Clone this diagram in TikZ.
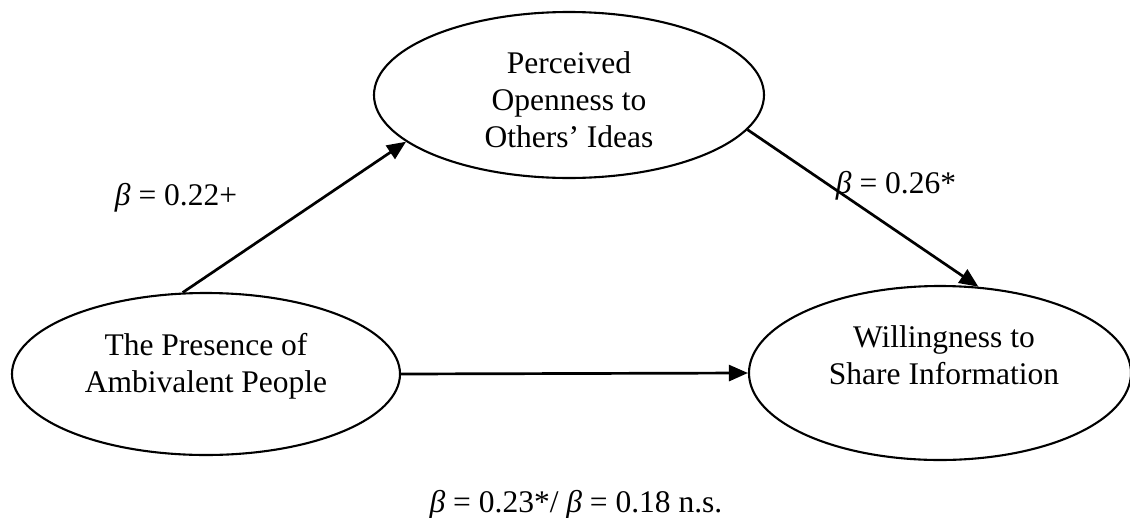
\documentclass[tikz,border=0pt]{standalone}
\usepackage{fontspec}
\setmainfont{Liberation Serif}
\usetikzlibrary{shapes.geometric,arrows.meta}
\newcommand\stack[1]{\begin{tabular}[t]{@{}c@{}}#1\end{tabular}}
\begin{document}
\begin{tikzpicture}[x=1pt,y=-1pt,
  construct/.style={draw, ellipse, line width=2.1pt, inner sep=0pt},
  path/.style={line width=2.7pt, -{Triangle[length=19pt,width=16pt]}},
  txt/.style={font=\fontsize{31.5}{37}\selectfont, anchor=base, inner sep=0pt},
  coef/.style={font=\fontsize{31.5}{37}\selectfont, anchor=base, inner sep=0pt}]
  \useasboundingbox (0,0) rectangle (1130,517);

  % latent constructs
  \node[construct, minimum width=390pt, minimum height=166pt] (open) at (569,95) {};
  \node[construct, minimum width=388pt, minimum height=162pt] (amb)  at (206,374) {};
  \node[construct, minimum width=382pt, minimum height=174pt] (share) at (940,373) {};

  % construct names
  \node[txt] (openT)  at (569,73)  {\stack{Perceived\\Openness to\\Others’ Ideas}};
  \node[txt] (ambT)   at (206,355) {\stack{The Presence of\\Ambivalent People}};
  \node[txt] (shareT) at (944,347) {\stack{Willingness to\\Share Information}};

  % paths
  \draw[path] (amb.106) -- (open.196);
  \draw[path] (open.349) -- (share.66);
  \draw[path] (amb.east) -- (share.west);

  % coefficients
  \node[coef] (b1) at (176,205) {\textit{β} = 0.22+};
  \node[coef] (b2) at (896,193) {\textit{β} = 0.26*};
  \node[coef] (b3) at (576,512) {\textit{β} = 0.23*/ \textit{β} = 0.18 n.s.};
\end{tikzpicture}
\end{document}
